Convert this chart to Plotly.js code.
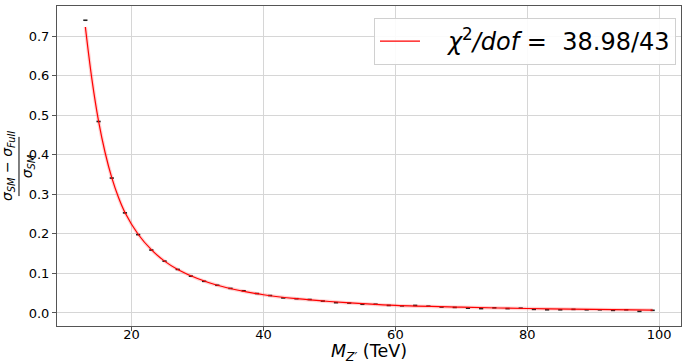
<!DOCTYPE html>
<html>
<head>
<meta charset="utf-8">
<script src="https://cdn.plot.ly/plotly-3.0.1.min.js"></script>
<style>
html,body{margin:0;padding:0;background:#fff;}
#chart{width:686px;height:363px;}
</style>
</head>
<body>
<div id="chart"></div>
<script>
// Data points (M_Z' in TeV, relative deviation)
const massX = [13,15,17,19,21,23,25,27,29,31,33,35,37,39,41,43,45,47,49,51,53,55,57,59,61,63,65,67,69,71,73,75,77,79,81,83,85,87,89,91,93,95,97,99];
const deltaY = [0.740,0.484,0.341,0.253,0.198,0.159,0.131,0.110,0.093,0.080,0.070,0.062,0.056,0.049,0.044,0.038,0.036,0.034,0.030,0.026,0.025,0.022,0.022,0.019,0.018,0.019,0.017,0.015,0.014,0.012,0.011,0.013,0.011,0.012,0.009,0.008,0.008,0.009,0.008,0.008,0.0065,0.008,0.004,0.0066];

// Fit curve
const fitX = [13,14,15,16,17,18,19,21,23,25,27,30,33,36,40,45,50,55,60,70,80,90,99];
const fitY = [0.723,0.590,0.485,0.405,0.342,0.293,0.254,0.199,0.160,0.131,0.110,0.087,0.070,0.058,0.046,0.036,0.029,0.0235,0.019,0.0145,0.0112,0.0088,0.0072];

const legendLabel = "\u00a0\u00a0\u00a0<i>χ</i><sup>2</sup><i>/dof</i> =\u00a0\u00a038.98/43";
const xTicks = [20,40,60,80,100];
const yTicks = [0,0.1,0.2,0.3,0.4,0.5,0.6,0.7];

const font = "DejaVu Sans, Arial, sans-serif";

const traces = [
  {
    x: fitX, y: fitY, type: 'scatter', mode: 'lines',
    line: {color: 'rgba(255,80,80,0.25)', width: 3.5, shape: 'spline'},
    showlegend: false, hoverinfo: 'skip'
  },
  {
    x: massX, y: deltaY, type: 'scatter', mode: 'markers',
    marker: {symbol: 'line-ew-open', size: 3, color: '#222', line: {color: '#222', width: 1.6}},
    showlegend: false
  },
  {
    x: fitX, y: fitY, type: 'scatter', mode: 'lines',
    line: {color: '#ff0000', width: 1.2, shape: 'spline'},
    name: legendLabel, showlegend: true
  }
];

const layout = {
  width: 686, height: 363,
  margin: {l: 57, r: 5, t: 6, b: 37},
  paper_bgcolor: '#fff', plot_bgcolor: '#fff',
  font: {family: font, color: '#000', size: 13},
  showlegend: true,
  legend: {
    x: 0.508, y: 0.9625, xanchor: 'left', yanchor: 'top',
    bgcolor: 'rgba(255,255,255,0.9)', bordercolor: '#d0d0d0', borderwidth: 1,
    font: {family: font, size: 24, color: '#000'},
    itemwidth: 40, tracegroupgap: 0
  },
  xaxis: {
    range: [8.7, 103.3], tickvals: xTicks, ticktext: xTicks.map(String),
    showgrid: true, gridcolor: '#d6d6d6', gridwidth: 1,
    zeroline: false, showline: true, linecolor: '#555', linewidth: 1, mirror: true,
    ticks: 'outside', ticklen: 4, tickcolor: '#555', ticklabelstandoff: -8,
    tickfont: {family: font, size: 13, color: '#000'},
    automargin: false
  },
  yaxis: {
    range: [-0.033, 0.776], tickvals: yTicks, ticktext: yTicks.map(v => v.toFixed(1)),
    showgrid: true, gridcolor: '#d6d6d6', gridwidth: 1,
    zeroline: false, showline: true, linecolor: '#555', linewidth: 1, mirror: true,
    ticks: 'outside', ticklen: 4, tickcolor: '#555',
    tickfont: {family: font, size: 13, color: '#000'},
    automargin: false
  },
  annotations: [
    {
      xref: 'paper', yref: 'paper', x: 0.5, y: -0.083, xanchor: 'center', yanchor: 'middle',
      text: "<i>M</i><sub><i>Z′</i></sub> (TeV)", showarrow: false, borderpad: 0,
      font: {family: font, size: 17.5, color: '#000'}
    },
    {
      xref: 'paper', yref: 'paper', x: -0.0785, y: 0.5, xanchor: 'center', yanchor: 'middle',
      text: "<i>σ</i><sub><i>SM</i></sub> − <i>σ</i><sub><i>Full</i></sub>", textangle: -90, showarrow: false,
      font: {family: font, size: 14, color: '#000'}
    },
    {
      xref: 'paper', yref: 'paper', x: -0.046, y: 0.5, xanchor: 'center', yanchor: 'middle',
      text: "<i>σ</i><sub><i>SM</i></sub>", textangle: -90, showarrow: false,
      font: {family: font, size: 14, color: '#000'}
    }
  ],
  shapes: [
    {type: 'line', xref: 'paper', yref: 'paper', x0: -0.0609, x1: -0.0609, y0: 0.406, y1: 0.591,
     line: {color: '#000', width: 1}}
  ]
};

Plotly.newPlot('chart', traces, layout, {displayModeBar: false, staticPlot: true});
</script>
</body>
</html>
